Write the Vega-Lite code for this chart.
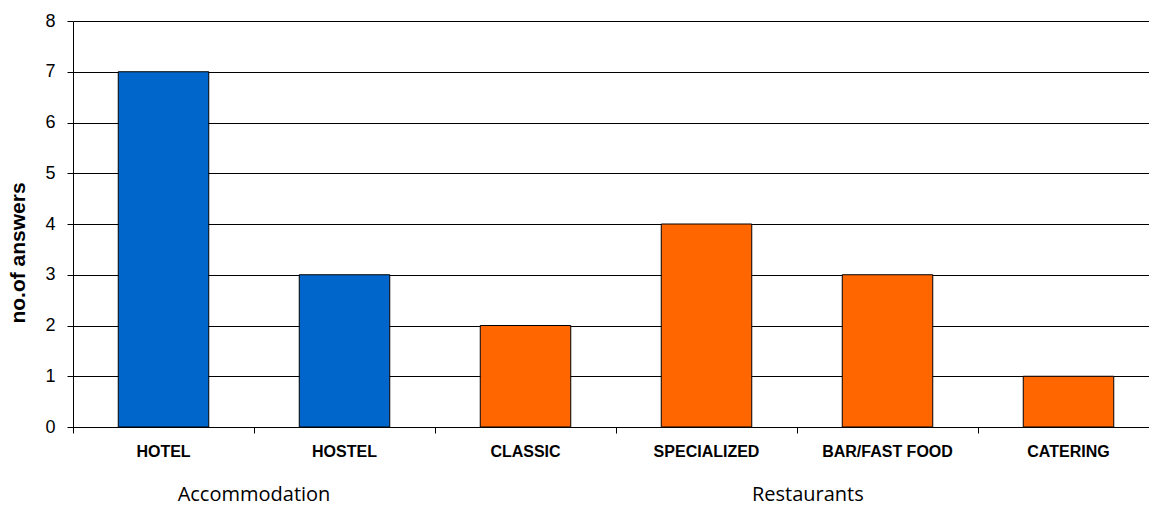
{
  "$schema": "https://vega.github.io/schema/vega-lite/v6.json",
  "width": 1076,
  "height": 406,
  "autosize": {"type": "none"},
  "padding": {"left": 73, "top": 21, "right": 0, "bottom": 80},
  "background": "white",
  "config": {
    "view": {"stroke": null},
    "axis": {"domainColor": "black", "tickColor": "black", "labelColor": "black", "titleColor": "black"}
  },
  "layer": [
    {
      "data": {
        "values": [
          {"cat": "HOTEL", "group": "Accommodation", "answers": 7},
          {"cat": "HOSTEL", "group": "Accommodation", "answers": 3},
          {"cat": "CLASSIC", "group": "Restaurants", "answers": 2},
          {"cat": "SPECIALIZED", "group": "Restaurants", "answers": 4},
          {"cat": "BAR/FAST FOOD", "group": "Restaurants", "answers": 3},
          {"cat": "CATERING", "group": "Restaurants", "answers": 1}
        ]
      },
      "mark": {"type": "bar", "width": {"band": 0.5}, "stroke": "black", "strokeWidth": 1},
      "encoding": {
        "x": {
          "field": "cat",
          "type": "nominal",
          "sort": ["HOTEL", "HOSTEL", "CLASSIC", "SPECIALIZED", "BAR/FAST FOOD", "CATERING"],
          "scale": {"paddingInner": 0, "paddingOuter": 0, "range": [0, 1086]},
          "axis": {
            "title": null,
            "labelAngle": 0,
            "bandPosition": 0,
            "labelFont": "Liberation Sans",
            "labelFontWeight": "bold",
            "labelFontSize": 16,
            "labelPadding": 10,
            "tickSize": 6,
            "grid": false
          }
        },
        "y": {
          "field": "answers",
          "type": "quantitative",
          "scale": {"domain": [0, 8], "nice": false},
          "axis": {
            "title": "no.of answers",
            "titleFont": "Liberation Sans",
            "titleFontWeight": "bold",
            "titleFontSize": 21,
            "titlePadding": 16,
            "titleY": 231.5,
            "values": [0, 1, 2, 3, 4, 5, 6, 7, 8],
            "labelFont": "Liberation Sans",
            "labelFontSize": 18,
            "labelPadding": 12,
            "tickSize": 6,
            "grid": true,
            "gridColor": "black",
            "gridOpacity": 1
          }
        },
        "color": {
          "field": "group",
          "type": "nominal",
          "scale": {"domain": ["Accommodation", "Restaurants"], "range": ["#0066CC", "#FF6600"]},
          "legend": null
        }
      }
    },
    {
      "data": {"values": [{"cat": "HOTEL", "label": "Accommodation"}]},
      "mark": {"type": "text", "font": "Open Sans", "fontSize": 20, "color": "black", "baseline": "middle", "align": "center"},
      "encoding": {
        "x": {"field": "cat", "type": "nominal", "bandPosition": 1, "sort": ["HOTEL", "HOSTEL", "CLASSIC", "SPECIALIZED", "BAR/FAST FOOD", "CATERING"]},
        "y": {"datum": -1.34, "type": "quantitative"},
        "text": {"field": "label"}
      }
    },
    {
      "data": {"values": [{"cat": "SPECIALIZED", "label": "Restaurants"}]},
      "mark": {"type": "text", "font": "Open Sans", "fontSize": 20, "color": "black", "baseline": "middle", "align": "center"},
      "encoding": {
        "x": {"field": "cat", "type": "nominal", "bandPosition": 1.06, "sort": ["HOTEL", "HOSTEL", "CLASSIC", "SPECIALIZED", "BAR/FAST FOOD", "CATERING"]},
        "y": {"datum": -1.34, "type": "quantitative"},
        "text": {"field": "label"}
      }
    }
  ]
}
